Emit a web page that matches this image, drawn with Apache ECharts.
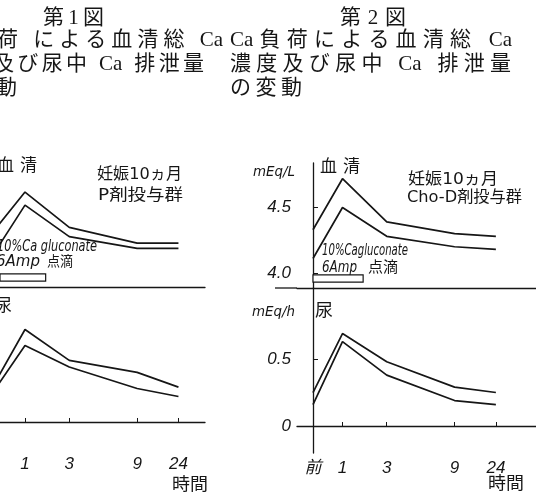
<!DOCTYPE html>
<html>
<head>
<meta charset="utf-8">
<script src="https://cdn.jsdelivr.net/npm/echarts@6/dist/echarts.min.js"></script>
<style>
html, body { margin: 0; padding: 0; background: #fff; }
#chart { width: 536px; height: 495px; }
</style>
</head>
<body>
<div id="chart"></div>
<script>
const timeLabels = ['前', '1', '3', '9', '24'];
// the time axis is hand drawn, so its slots are not linear in hours
const timeSlots = [0, 1, 2.5, 4.8, 6.2];

const serumTicks = [4.0, 4.5];
const urineTicks = [0, 0.5];

// 第1図  P剤投与群
const fig1SerumHigh = [4.33, 4.61, 4.34, 4.22, 4.22];
const fig1SerumLow  = [4.16, 4.51, 4.27, 4.18, 4.18];
const fig1UrineHigh = [0.30, 0.69, 0.46, 0.37, 0.26];
const fig1UrineLow  = [0.25, 0.57, 0.41, 0.25, 0.19];

// 第2図  Cho-D剤投与群
const fig2SerumHigh = [4.33, 4.72, 4.39, 4.30, 4.28];
const fig2SerumLow  = [4.11, 4.50, 4.28, 4.20, 4.18];
const fig2UrineHigh = [0.25, 0.69, 0.48, 0.29, 0.25];
const fig2UrineLow  = [0.16, 0.63, 0.38, 0.19, 0.16];

// 10% Ca gluconate 6Amp 点滴 (bar under the serum curves)
const dripSpan = [0, 1.7];
const dripLevel = [3.93, 3.985];

const ink = '#161616';
const handFont = "'DejaVu Sans', 'Noto Sans CJK JP'";
const printFont = "'Liberation Serif', 'Noto Sans CJK JP'";

const meas = document.createElement('canvas').getContext('2d');

// printed caption: spread the glyphs between x0 and x1 (the scan is letter spaced)
function spread(str, x0, x1, y, font) {
  const toks = str.match(/[A-Za-z0-9%.\-]+| |[^ ]/g);
  meas.font = font;
  const ws = toks.map(t => meas.measureText(t).width);
  const sum = ws.reduce((a, b) => a + b, 0);
  const gap = toks.length > 1 ? (x1 - x0 - sum) / (toks.length - 1) : 0;
  let x = x0;
  const out = [];
  toks.forEach((t, i) => {
    if (t !== ' ') {
      out.push({ type: 'text', x: x, y: y, silent: true,
        style: { text: t, font: font, fill: ink, textVerticalAlign: 'middle' } });
    }
    x += ws[i] + gap;
  });
  return out;
}

// hand lettering: squeeze / stretch one string to the width it has in the scan
function fit(str, x0, x1, y, font) {
  meas.font = font;
  const w = meas.measureText(str).width;
  return { type: 'text', x: x0, y: y, scaleX: (x1 - x0) / w, silent: true,
    style: { text: str, font: font, fill: ink, textVerticalAlign: 'middle' } };
}

function pts(vals) {
  return timeSlots.map((t, i) => [t, vals[i]]);
}

function curve(idx, vals, withDrip) {
  const s = {
    type: 'line', xAxisIndex: idx, yAxisIndex: idx, data: pts(vals),
    symbol: 'none', silent: true, animation: false,
    lineStyle: { color: ink, width: 1.7 }
  };
  if (withDrip) {
    s.markArea = {
      silent: true,
      itemStyle: { color: '#fff', borderColor: ink, borderWidth: 1.2 },
      data: [[{ coord: [dripSpan[0], dripLevel[1]] }, { coord: [dripSpan[1], dripLevel[0]] }]]
    };
  }
  return s;
}

const timeLabelStyle = {
  customValues: timeSlots,
  formatter: v => timeLabels[timeSlots.indexOf(v)],
  color: ink, fontSize: 17, fontStyle: 'italic',
  fontFamily: "'Liberation Sans', 'Noto Sans CJK JP'", margin: 7
};

function xTop(min, max, idx) {
  return { type: 'value', gridIndex: idx, min: min, max: max,
    axisLine: { show: true, lineStyle: { color: ink, width: 1.3 } },
    axisTick: { show: false }, axisLabel: { show: false }, splitLine: { show: false } };
}
function xBottom(min, max, idx) {
  return { type: 'value', gridIndex: idx, min: min, max: max,
    axisLine: { show: true, lineStyle: { color: ink, width: 1.3 } },
    axisTick: { show: true, inside: true, length: 4, customValues: timeSlots, lineStyle: { color: ink } },
    axisLabel: timeLabelStyle, splitLine: { show: false } };
}
function yAxisOf(idx, min, max, ticks, shown, fmt) {
  return { type: 'value', gridIndex: idx, min: min, max: max, show: shown,
    axisLine: { show: true, lineStyle: { color: ink, width: 1.3 } },
    axisTick: { show: true, inside: true, length: 5, customValues: ticks, lineStyle: { color: ink } },
    axisLabel: { customValues: ticks, formatter: fmt, color: ink, fontSize: 17, fontStyle: 'italic',
      fontFamily: "'Liberation Sans'", margin: 6 },
    splitLine: { show: false } };
}

const chart = echarts.init(document.getElementById('chart'));

const cap = '21px ' + printFont;
const graphics = [].concat(
  spread('第1図', 43, 104, 18, '21px ' + printFont),
  spread('第2図', 340, 406, 18, '21px ' + printFont),
  spread('荷 による血清総 Ca', -3, 223, 40, cap),
  spread('及び尿中 Ca 排泄量', -7, 204, 64, cap),
  spread('動', -4, 17, 88, cap),
  spread('Ca負荷による血清総 Ca', 230, 512, 40, cap),
  spread('濃度及び尿中 Ca 排泄量', 230, 511, 64, cap),
  spread('の変動', 230, 302, 88, cap),

  spread('血 清', -3, 37, 167, '17px ' + handFont),
  spread('血 清', 320, 360, 168, '17px ' + handFont),
  [fit('妊娠10ヵ月', 97, 182, 175, '16px ' + handFont),
   fit('P剤投与群', 98, 183, 196, '16px ' + handFont),
   fit('妊娠10ヵ月', 408, 498, 180, '16px ' + handFont),
   fit('Cho-D剤投与群', 407, 522, 198, '16px ' + handFont),
   fit('10%Ca gluconate', -3, 97, 247, 'italic 15px ' + handFont),
   fit('6Amp', -4, 40, 262, 'italic 15px ' + handFont),
   fit('点滴', 47, 73, 262, '14px ' + handFont),
   fit('10%Cagluconate', 322, 408, 251, 'italic 15px ' + handFont),
   fit('6Amp', 322, 357, 268, 'italic 15px ' + handFont),
   fit('点滴', 368, 398, 268, '15px ' + handFont),
   fit('尿', -6, 12, 307, '17px ' + handFont),
   fit('尿', 315, 333, 312, '17px ' + handFont),
   fit('時間', 172, 208, 486, '17px ' + handFont),
   fit('時間', 488, 524, 485, '17px ' + handFont),
   fit('mEq/L', 253, 295, 172, 'italic 14px ' + handFont),
   fit('mEq/h', 252, 295, 312, 'italic 14px ' + handFont),
   { type: 'line', silent: true, shape: { x1: 275, y1: 288, x2: 297, y2: 288 },
     style: { stroke: ink, lineWidth: 1.3 } }]
);

const option = {
  backgroundColor: '#fff',
  animation: false,
  grid: [
    { left: 0, top: 163, width: 205, height: 124 },
    { left: 0, top: 287, width: 205, height: 162 },
    { left: 297, top: 163, right: 0, height: 125 },
    { left: 297, top: 288, right: 0, height: 165 }
  ],
  xAxis: [
    xTop(0.1525, 7.1, 0),
    xBottom(0.1525, 7.1, 1),
    xTop(-0.542, 7.56, 2),
    xBottom(-0.542, 7.56, 3)
  ],
  yAxis: [
    yAxisOf(0, 3.885, 4.832, serumTicks, false, v => v.toFixed(1)),
    yAxisOf(1, -0.2015, 1.007, urineTicks, false, v => (v === 0 ? '0' : String(v))),
    yAxisOf(2, 3.885, 4.84, serumTicks, true, v => v.toFixed(1)),
    yAxisOf(3, -0.2015, 1.03, urineTicks, true, v => (v === 0 ? '0' : String(v)))
  ],
  series: [
    curve(0, fig1SerumHigh, true),
    curve(0, fig1SerumLow, false),
    curve(1, fig1UrineHigh, false),
    curve(1, fig1UrineLow, false),
    curve(2, fig2SerumHigh, true),
    curve(2, fig2SerumLow, false),
    curve(3, fig2UrineHigh, false),
    curve(3, fig2UrineLow, false)
  ],
  graphic: { elements: graphics }
};

chart.setOption(option);
</script>
</body>
</html>
